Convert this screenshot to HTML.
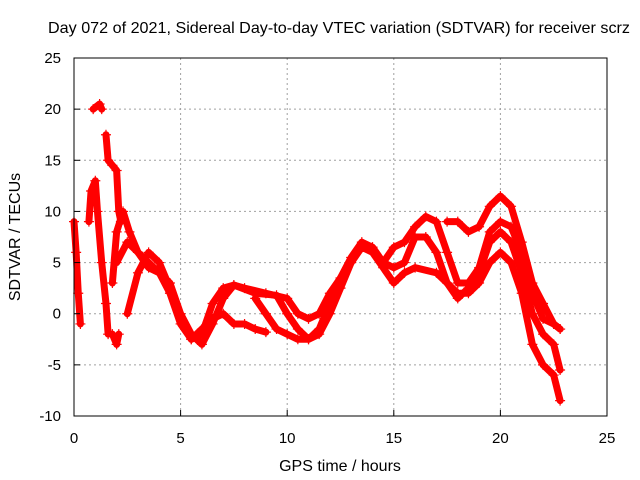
<!DOCTYPE html>
<html><head><meta charset="utf-8"><style>
body{margin:0;background:#fff}
svg{display:block;font-family:"Liberation Sans",sans-serif}
</style></head><body>
<svg id="c" width="640" height="480" viewBox="0 0 640 480">
<rect width="640" height="480" fill="#fff"/>
<g id="grid"></g><g id="data"></g><g id="axes"></g>
</svg>
<script>
const xTicks=[0,5,10,15,20,25];
const yTicks=[-10,-5,0,5,10,15,20,25];
const titleText="Day 072 of 2021, Sidereal Day-to-day VTEC variation (SDTVAR) for receiver scrz";
const arc1=[[0,9],[0.1,6],[0.2,2],[0.3,-1]];
const arc2=[[0.7,9],[0.8,12],[1.0,13],[1.1,10],[1.3,5],[1.5,1],[1.6,-2]];
const arc3=[[0.9,20],[1.2,20.5],[1.3,20]];
const arc4=[[1.5,17.5],[1.6,15],[1.8,14.5],[2.0,14],[2.1,10],[2.2,9]];
const arc5=[[1.8,-2],[2.0,-3],[2.1,-2]];
const arc6=[[1.8,3],[2.0,8],[2.3,10],[2.6,8],[3.0,6],[3.5,4.5],[4.0,4],[4.5,3],[5.0,0],[5.5,-2],[6.0,-3],[6.5,-1],[7.0,1.5],[7.5,2.8],[8.0,2.5],[9.0,2],[10.0,1.5],[10.5,0],[11,-0.5],[11.5,0],[12,2],[13,5],[13.5,6.5],[14,6],[14.5,4.5],[15,3],[15.5,4],[16,4.5],[17,4],[18,2],[18.5,2],[19,3],[19.5,5],[20,6],[20.5,5],[21,2],[21.5,-3],[22,-5],[22.5,-6],[22.8,-8.5]];
const arc7=[[2.5,0],[3,4],[3.5,6],[4,5],[4.5,2.5],[5,-0.5],[5.5,-2.5],[6,-2],[6.5,1],[7,2.5],[7.5,2.8],[8.5,2],[9.5,1.8],[10,0],[10.5,-1.5],[11,-2.5],[11.5,-2],[12,0],[12.5,2.5],[13,5],[13.5,6.8],[14,6.5],[14.5,5],[15,4.5],[15.5,5],[16,7.5],[16.5,7.5],[17,6],[17.5,3],[18,1.5],[18.5,2.5],[19,4],[19.5,7],[20,8],[20.5,7],[21,4],[21.5,0],[22,-2],[22.5,-3],[22.8,-5.5]];
const arc8=[[2,5],[2.5,7],[3,6],[4,4],[4.5,2],[5,-1],[5.5,-2.5],[6,-1.5],[6.5,-0.5],[7,0],[7.5,-1],[8,-1],[8.5,-1.5],[9,-1.8]];
const arc9=[[8.5,1.5],[9,0],[9.5,-1.5],[10,-2],[10.5,-2.5],[11,-2.5],[11.5,-1.5],[12,1],[12.5,3.5],[13,5.5],[13.5,7],[14,6.5],[14.5,5],[15,6.5],[15.5,7],[16,8.5],[16.5,9.5],[17,9],[17.5,6],[18,3],[18.5,3],[19,4.5],[19.5,8],[20,9],[20.5,8.5],[21,6],[21.5,2],[22,-0.5],[22.5,-1],[22.8,-1.5]];
const arc10=[[17.5,9],[18,9],[18.5,8],[19,8.5],[19.5,10.5],[20,11.5],[20.5,10.5],[21,7],[21.5,3],[22,1],[22.5,-1],[22.8,-1.5]];
const arcs=[arc1,arc2,arc3,arc4,arc5,arc6,arc7,arc8,arc9,arc10];

const L=74,R=607,T=58,B=416;
const sx=v=>L+(v-0)/(25-0)*(R-L);
const sy=v=>B-(v+10)/35*(B-T);
const NS="http://www.w3.org/2000/svg";
function mk(tag,attrs,parent,text){const e=document.createElementNS(NS,tag);for(const k in attrs)e.setAttribute(k,attrs[k]);if(text!==undefined)e.textContent=text;parent.appendChild(e);return e;}
const grid=document.getElementById('grid'),data=document.getElementById('data'),axes=document.getElementById('axes'),svg=document.getElementById('c');

xTicks.forEach(t=>{
  if(t>0&&t<25){const g=mk('line',{x1:sx(t),x2:sx(t),y1:T,y2:B,stroke:'#a0a0a0','stroke-dasharray':'2,3'},grid);
  
  }
  const tk=mk('line',{x1:sx(t),x2:sx(t),y1:B,y2:B-6,stroke:'#000'},axes);
  
  
  const tl=mk('text',{x:sx(t),y:B+27,'text-anchor':'middle','font-size':15},axes,String(t));
  
  
});
yTicks.forEach(t=>{
  if(t>-10&&t<25){const g=mk('line',{x1:L,x2:R,y1:sy(t),y2:sy(t),stroke:'#a0a0a0','stroke-dasharray':'2,3'},grid);
  
  }
  const tk=mk('line',{x1:L,x2:L+6,y1:sy(t),y2:sy(t),stroke:'#000'},axes);
  
  
  const tl=mk('text',{x:L-13,y:sy(t)+5,'text-anchor':'end','font-size':15},axes,String(t));
  
  
});
const border=mk('rect',{x:L,y:T,width:R-L,height:B-T,fill:'none',stroke:'#000'},axes);



arcs.forEach(a=>{
  const pl=mk('polyline',{points:a.map(p=>sx(p[0])+','+sy(p[1])).join(' '),fill:'none',stroke:'#f00','stroke-width':7,'stroke-linejoin':'round','stroke-linecap':'round'},data);
  
  
  a.forEach(p=>{
    const x=sx(p[0]),y=sy(p[1]);
    const m=mk('path',{d:`M${x-5},${y}H${x+5}M${x},${y-5}V${y+5}`,stroke:'#f00','stroke-width':1.2},data);
    
    
  });
});

const title=mk('text',{x:48,y:33,'font-size':16,textLength:582,lengthAdjust:'spacingAndGlyphs'},svg,titleText);


const xt=mk('text',{x:340,y:471,'text-anchor':'middle','font-size':16},svg,'GPS time / hours');


const yt=mk('text',{x:0,y:0,'text-anchor':'middle','font-size':16,transform:'translate(20,237) rotate(-90)'},svg,'SDTVAR / TECUs');


</script>
</body></html>
